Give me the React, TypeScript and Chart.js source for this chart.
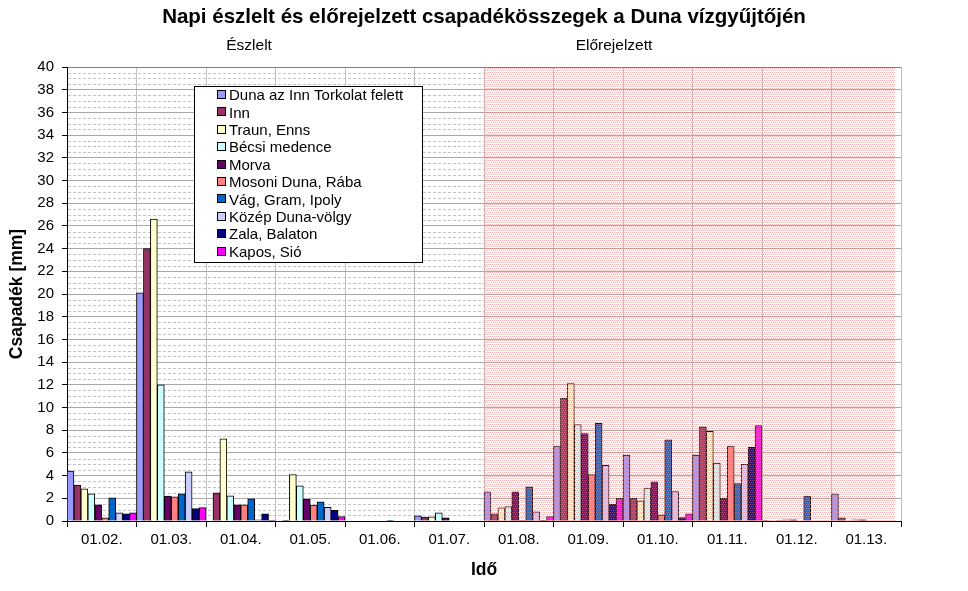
import { useEffect, useRef } from "react";
import { Chart, registerables } from "chart.js";

Chart.register(...registerables);

const FONT = "Arial, 'Liberation Sans', sans-serif";

const chartTitle = "Napi észlelt és előrejelzett csapadékösszegek a Duna vízgyűjtőjén";
const observedLabel = "Észlelt";
const forecastLabel = "Előrejelzett";
const xTitle = "Idő";
const yTitle = "Csapadék [mm]";

const categories = ["01.02.", "01.03.", "01.04.", "01.05.", "01.06.", "01.07.", "01.08.", "01.09.", "01.10.", "01.11.", "01.12.", "01.13."];
const firstForecastIndex = 6;

const seriesNames = [
  "Duna az Inn Torkolat felett",
  "Inn",
  "Traun, Enns",
  "Bécsi medence",
  "Morva",
  "Mosoni Duna, Rába",
  "Vág, Gram, Ipoly",
  "Közép Duna-völgy",
  "Zala, Balaton",
  "Kapos, Sió",
];
const seriesColors = ["#9999FF", "#993366", "#FFFFCC", "#CCFFFF", "#660066", "#FF8080", "#0066CC", "#CCCCFF", "#000080", "#FF00FF"];

const duna = [4.4, 20.1, null, null, null, 0.46, 2.57, 6.6, 5.8, 5.8, 0.05, 2.4];
const inn = [3.17, 24.0, 2.48, 0.05, null, 0.35, 0.63, 10.8, 2.0, 8.3, null, 0.28];
const traun = [2.83, 26.6, 7.24, 4.1, null, 0.37, 1.16, 12.1, 1.78, 7.9, 0.05, null];
const becsi = [2.39, 12.0, 2.22, 3.1, null, 0.72, 1.28, 8.5, 2.9, 5.1, 0.1, 0.1];
const morva = [1.43, 2.2, 1.43, 1.9, null, 0.28, 2.57, 7.7, 3.45, 2.0, 0.1, 0.1];
const mosoni = [0.28, 2.13, 1.43, 1.4, null, null, 0.05, 4.1, 0.55, 6.6, null, null];
const vag = [2.05, 2.4, 1.96, 1.7, 0.05, null, 3.0, 8.6, 7.15, 3.3, 2.2, null];
const kozep = [0.72, 4.33, 0.1, 1.2, null, null, 0.8, 4.9, 2.6, 5.0, null, null];
const zala = [0.63, 1.1, 0.63, 0.95, null, null, 0.05, 1.5, 0.3, 6.5, null, null];
const kapos = [0.72, 1.19, 0.05, 0.4, null, null, 0.4, 2.0, 0.63, 8.4, null, null];

const seriesValues = [duna, inn, traun, becsi, morva, mosoni, vag, kozep, zala, kapos];

const yMin = 0;
const yMax = 40;
const yMajorStep = 2;
const yMinorStep = 0.5;

function makePattern(ctx: CanvasRenderingContext2D) {
  const tile = document.createElement("canvas");
  tile.width = 4;
  tile.height = 4;
  const t = tile.getContext("2d")!;
  t.fillStyle = "rgba(255,190,190,0.12)";
  t.fillRect(0, 0, 4, 4);
  t.fillStyle = "rgba(240,120,120,0.55)";
  const pts = [[0, 0], [2, 0], [1, 2], [3, 2]];
  pts.forEach(([px, py]) => t.fillRect(px, py, 1, 1));
  return ctx.createPattern(tile, "repeat");
}

const decorPlugin = {
  id: "decor",
  beforeDatasetsDraw(chart: any) {
    const { ctx, chartArea, scales } = chart;
    const y = scales.y;
    const x = scales.x;
    const forecastLeft = Math.round(x.getPixelForValue(firstForecastIndex - 0.5));
    ctx.save();
    ctx.strokeStyle = "#c4c4c4";
    ctx.lineWidth = 1;
    ctx.setLineDash([3, 2]);
    for (let v = yMin + yMinorStep; v < yMax; v += yMinorStep) {
      if (Math.abs(v / yMajorStep - Math.round(v / yMajorStep)) < 1e-6) continue;
      const py = Math.round(y.getPixelForValue(v)) + 0.5;
      ctx.beginPath();
      ctx.moveTo(chartArea.left + 1, py);
      ctx.lineTo(forecastLeft, py);
      ctx.stroke();
    }
    ctx.restore();
  },
  afterDatasetsDraw(chart: any) {
    const { ctx, chartArea, scales } = chart;
    const x = scales.x;
    const left = Math.round(x.getPixelForValue(firstForecastIndex - 0.5));
    const pat = makePattern(ctx);
    if (!pat) return;
    ctx.save();
    ctx.fillStyle = pat;
    ctx.fillRect(left, chartArea.top + 1, chartArea.right - left - 6, chartArea.bottom - chartArea.top - 1);
    ctx.restore();
  },
  afterDraw(chart: any) {
    const { ctx, scales } = chart;
    const x = scales.x;
    ctx.save();
    ctx.fillStyle = "#000";
    ctx.textAlign = "center";
    ctx.textBaseline = "middle";
    ctx.font = `bold 20.5px ${FONT}`;
    ctx.fillText(chartTitle, chart.width / 2, 17);
    ctx.font = `15.5px ${FONT}`;
    ctx.fillText(observedLabel, x.getPixelForValue(2.12), 46);
    ctx.fillText(forecastLabel, x.getPixelForValue(7.37), 46);

    // legend box
    const bx = 194, by = 86, bw = 228, bh = 176;
    ctx.fillStyle = "#fff";
    ctx.fillRect(bx, by, bw, bh);
    ctx.strokeStyle = "#000";
    ctx.lineWidth = 1;
    ctx.strokeRect(bx + 0.5, by + 0.5, bw, bh);
    ctx.textAlign = "left";
    ctx.font = `15px ${FONT}`;
    seriesNames.forEach((name, i) => {
      const cy = 95 + i * 17.4;
      ctx.fillStyle = seriesColors[i];
      ctx.fillRect(218, Math.round(cy - 4), 7, 7);
      ctx.strokeStyle = "#000";
      ctx.strokeRect(217.5, Math.round(cy - 4) - 0.5, 8, 8);
      ctx.fillStyle = "#000";
      ctx.fillText(name, 229, cy + 1);
    });
    ctx.restore();
  },
};

export default function App() {
  const ref = useRef<HTMLCanvasElement>(null);
  useEffect(() => {
    document.body.style.margin = "0";
    const canvas = ref.current!;
    const chart = new Chart(canvas, {
      type: "bar",
      data: {
        labels: categories,
        datasets: seriesNames.map((name, i) => ({
          label: name,
          data: seriesValues[i],
          backgroundColor: seriesColors[i],
          borderColor: "#000",
          borderWidth: 1,
          categoryPercentage: 1,
          barPercentage: 1,
        })),
      },
      options: {
        responsive: false,
        animation: false,
        devicePixelRatio: 1,
        layout: { padding: { top: 67, right: 67, left: 0, bottom: 0 } },
        plugins: {
          legend: { display: false },
          title: { display: false },
          tooltip: { enabled: false },
        },
        scales: {
          x: {
            offset: true,
            grid: {
              offset: true,
              color: (c: any) => (c.index === categories.length ? "#808080" : "#c0c0c0"),
              tickColor: "#000",
              tickLength: 6,
            },
            border: { color: "#000", width: 1 },
            ticks: { color: "#000", font: { family: FONT, size: 15 }, padding: 4, autoSkip: false, maxRotation: 0 },
            title: {
              display: true,
              text: xTitle,
              color: "#000",
              font: { family: FONT, size: 17.5, weight: "bold" },
              padding: { top: 0, bottom: 10 },
            },
            afterFit: (s: any) => {
              s.height = 70;
            },
          },
          y: {
            min: yMin,
            max: yMax,
            ticks: { stepSize: yMajorStep, color: "#000", font: { family: FONT, size: 15 }, padding: 8 },
            grid: {
              color: (c: any) => (c.tick && c.tick.value === yMax ? "#808080" : "#a8a8a8"),
              tickColor: "#000",
              tickLength: 5,
            },
            border: { color: "#000", width: 1 },
            title: {
              display: true,
              text: yTitle,
              color: "#000",
              font: { family: FONT, size: 17.5, weight: "bold" },
              padding: { top: 7, bottom: 0 },
            },
            afterFit: (s: any) => {
              s.width = 67;
            },
          },
        },
      } as any,
      plugins: [decorPlugin],
    });
    return () => chart.destroy();
  }, []);
  return (
    <div style={{ width: 968, height: 591 }}>
      <canvas ref={ref} width={968} height={591} style={{ display: "block" }} />
    </div>
  );
}
